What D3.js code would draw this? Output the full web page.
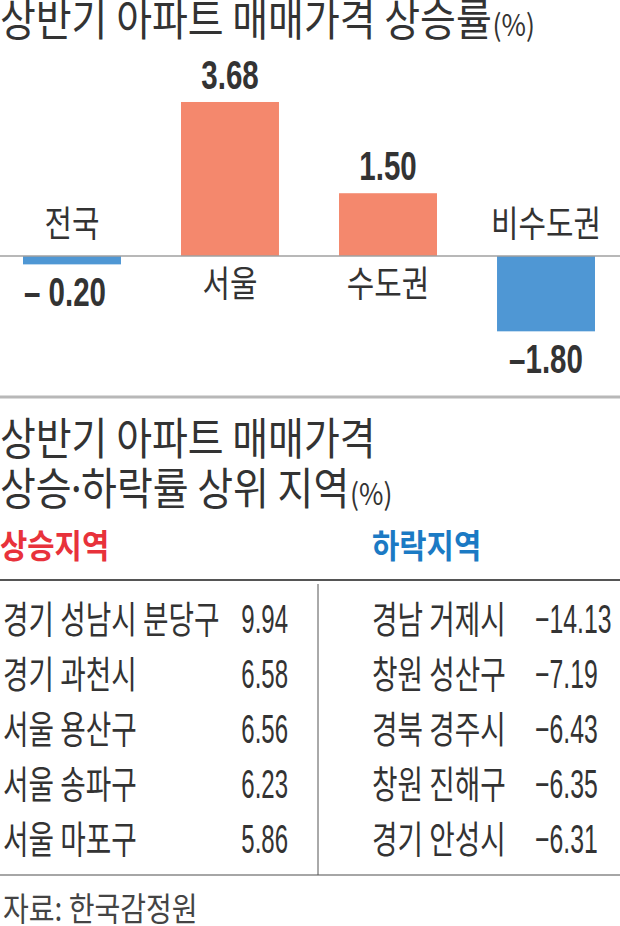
<!DOCTYPE html>
<html>
<head>
<meta charset="utf-8">
<script src="https://cdn.jsdelivr.net/npm/d3@7"></script>
<style>
  html, body { margin: 0; padding: 0; background: #fff; }
  svg { display: block; }
</style>
</head>
<body>
<div id="chart"></div>
<script>
// ---------- data ----------
const categories = ["전국", "서울", "수도권", "비수도권"];
const values = [-0.20, 3.68, 1.50, -1.80];
const valueLabels = ["– 0.20", "3.68", "1.50", "–1.80"];

const riseNames = ["경기 성남시 분당구", "경기 과천시", "서울 용산구", "서울 송파구", "서울 마포구"];
const riseValues = [9.94, 6.58, 6.56, 6.23, 5.86];
const fallNames = ["경남 거제시", "창원 성산구", "경북 경주시", "창원 진해구", "경기 안성시"];
const fallValues = [-14.13, -7.19, -6.43, -6.35, -6.31];

const title1 = "상반기 아파트 매매가격 상승률";
const title2a = "상반기 아파트 매매가격";
const title2b = ["상승", "·", "하락률 상위 지역"];
const riseHeader = "상승지역";
const fallHeader = "하락지역";
const source = "자료: 한국감정원";

// ---------- setup ----------
const W = 620, H = 926;
const KR = "'Noto Sans CJK KR', 'Noto Sans', sans-serif";
const NUM = "'Liberation Sans Narrow', 'Liberation Sans', Arial, sans-serif";
const svg = d3.select("#chart").append("svg").attr("width", W).attr("height", H);

function txt(sel, s, x, y, o) {
  const g = sel.append("g").attr("transform", `translate(${x},${y}) scale(${o.sx || 1},1)`);
  const t = g.append("text")
    .attr("text-anchor", o.anchor || "start")
    .attr("font-family", o.family || KR)
    .attr("font-size", o.size)
    .attr("font-weight", o.weight || 400)
    .attr("letter-spacing", o.ls || 0)
    .attr("fill", o.fill || "#333");
  if (s !== null) t.text(s);
  return t;
}

// ---------- title ----------
const t1 = txt(svg, title1, 0, 36, { size: 44, sx: 0.885, fill: "#333" });
t1.append("tspan").attr("font-size", 30).attr("dx", 1).text("(%)");

// ---------- bar chart ----------
const x = d3.scaleBand().domain(categories).range([23, 595]).paddingInner(0.38);
const y = d3.scaleLinear().domain([-2, 4]).range([256 + 2 * 41.85, 256 - 4 * 41.85]);

const bars = svg.append("g");
bars.selectAll("rect").data(values).join("rect")
  .attr("x", (d, i) => x(categories[i]))
  .attr("width", x.bandwidth())
  .attr("y", d => Math.min(y(d), y(0)))
  .attr("height", d => Math.abs(y(d) - y(0)))
  .attr("fill", d => d >= 0 ? "#f4886d" : "#4f97d4");

svg.append("line").attr("x1", 0).attr("x2", W).attr("y1", y(0)).attr("y2", y(0))
  .attr("stroke", "#a0a0a0").attr("stroke-width", 1.5);

values.forEach((d, i) => {
  const cx = x(categories[i]) + x.bandwidth() / 2;
  const vy = d >= 0 ? y(d) - 13 : y(d) + 42;
  const dxv = i === 0 ? -7 : 0;
  txt(svg, valueLabels[i], cx + dxv, vy, { family: NUM, size: 41, weight: 700, sx: 0.72, anchor: "middle", fill: "#333" });
  const cy = d >= 0 ? y(0) + 41 : y(0) - 19;
  txt(svg, categories[i], cx, cy, { size: 36, sx: 0.83, anchor: "middle", fill: "#333" });
});

// separator
svg.append("line").attr("x1", 0).attr("x2", W).attr("y1", 397).attr("y2", 397)
  .attr("stroke", "#b8b8b8").attr("stroke-width", 3);

// ---------- second title ----------
txt(svg, title2a, 0, 455, { size: 44, sx: 0.885, fill: "#333" });
const t2 = txt(svg, null, 0, 505, { size: 44, sx: 0.885, fill: "#333" });
t2.append("tspan").text(title2b[0]);
t2.append("tspan").attr("dx", -7).text(title2b[1]);
t2.append("tspan").attr("dx", -7).text(title2b[2]);
t2.append("tspan").attr("font-size", 30).attr("dx", 1).text("(%)");

txt(svg, riseHeader, 0, 558, { size: 33, weight: 700, sx: 0.9, fill: "#e8323b" });
txt(svg, fallHeader, 372, 558, { size: 33, weight: 700, sx: 0.9, fill: "#1b7ac4" });

// ---------- table ----------
svg.append("line").attr("x1", 0).attr("x2", W).attr("y1", 580).attr("y2", 580)
  .attr("stroke", "#555").attr("stroke-width", 2);
svg.append("line").attr("x1", 0).attr("x2", W).attr("y1", 875).attr("y2", 875)
  .attr("stroke", "#888").attr("stroke-width", 1.5);
svg.append("line").attr("x1", 318).attr("x2", 318).attr("y1", 584).attr("y2", 875)
  .attr("stroke", "#555").attr("stroke-width", 1);

const rowY = d3.scalePoint().domain(d3.range(riseNames.length)).range([633, 853]);
const fmt = d3.format(".2f");

riseNames.forEach((n, i) => {
  txt(svg, n, 3, rowY(i), { size: 38, sx: 0.73, fill: "#333" });
  txt(svg, fmt(riseValues[i]), 288, rowY(i), { family: NUM, size: 40, sx: 0.6, anchor: "end", fill: "#333" });
});
fallNames.forEach((n, i) => {
  txt(svg, n, 372, rowY(i), { size: 38, sx: 0.73, fill: "#333" });
  txt(svg, fmt(fallValues[i]), 535, rowY(i), { family: NUM, size: 40, sx: 0.62, anchor: "start", fill: "#333" });
});

// ---------- source ----------
txt(svg, source, 3, 921, { size: 33, sx: 0.85, fill: "#444" });
</script>
</body>
</html>
